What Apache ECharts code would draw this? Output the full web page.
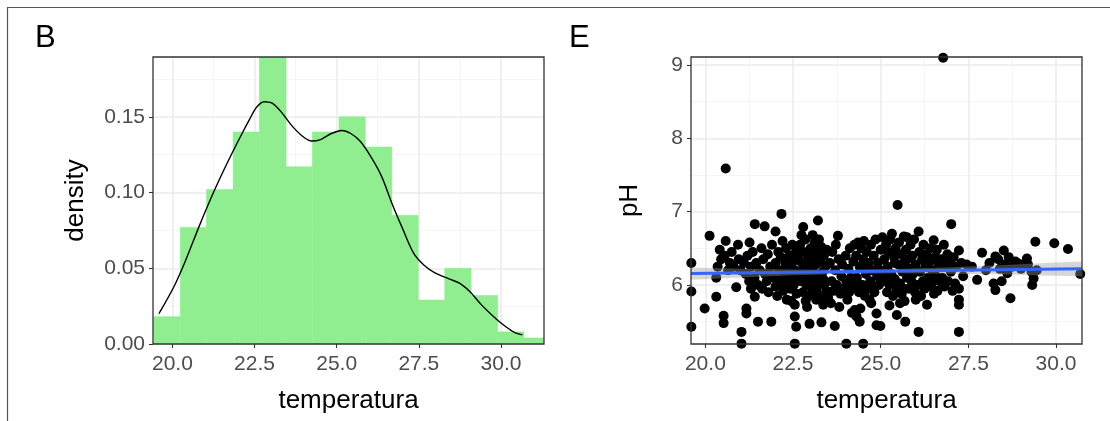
<!DOCTYPE html>
<html>
<head>
<meta charset="utf-8">
<script src="https://cdn.jsdelivr.net/npm/echarts@6/dist/echarts.min.js"></script>
<style>
  html, body { margin: 0; padding: 0; background: #ffffff; }
  #chart { width: 1110px; height: 421px; }
</style>
</head>
<body>
<div id="chart"></div>
<script>
// ---- Panel B: histogram of temperature with a density curve ----
const binEdges = [19.43, 20.24, 21.04, 21.85, 22.65, 23.46, 24.26, 25.07, 25.87, 26.68, 27.48, 28.29, 29.09, 29.90, 30.70, 31.51];
const binDensity = [0.018, 0.077, 0.102, 0.140, 0.196, 0.117, 0.140, 0.150, 0.130, 0.085, 0.029, 0.050, 0.032, 0.008, 0.004];

const densTemp = [19.59, 20.05, 20.38, 20.82, 21.25, 21.68, 22.12, 22.34, 22.55, 22.79, 23.04, 23.32, 23.64, 23.97, 24.24, 24.51, 24.84, 25.16, 25.43, 25.71, 26.03, 26.36, 26.68, 27.01, 27.34, 27.66, 27.99, 28.42, 28.75, 29.08, 29.40, 29.73, 30.05, 30.38, 30.65];
const densValue = [0.020, 0.038, 0.054, 0.078, 0.100, 0.120, 0.139, 0.148, 0.156, 0.160, 0.159, 0.153, 0.144, 0.137, 0.134, 0.135, 0.139, 0.141, 0.139, 0.134, 0.124, 0.111, 0.093, 0.076, 0.060, 0.052, 0.047, 0.043, 0.040, 0.034, 0.026, 0.019, 0.013, 0.008, 0.006];

// ---- Panel E: pH against temperature with a linear fit ----
const phPoints = [
  [19.60,6.30],[19.60,5.91],[19.60,5.43],[19.98,5.68],[20.12,6.67],
  [20.31,6.10],[20.31,5.84],[20.41,6.48],[20.52,5.58],[20.52,5.48],[20.58,6.60],[20.58,7.59],[20.93,6.55],[20.88,5.97],[21.03,5.36],
  [21.03,5.20],[20.45,6.35],[20.55,6.40],[20.70,6.30],[20.80,6.25],[20.65,6.20],[20.95,6.35],[21.00,6.20],[20.35,6.25],[20.75,6.45],
  [21.17,5.68],[21.17,5.61],[21.26,6.58],[21.41,6.83],[21.41,5.84],[21.50,5.50],[21.69,6.80],[21.10,6.30],[21.15,6.15],[21.20,6.40],
  [21.25,6.05],[21.30,6.25],[21.35,6.45],[21.40,6.10],[21.45,6.30],[21.50,6.00],[21.55,6.20],[21.60,6.50],[21.62,5.95],[21.65,6.35],
  [21.70,6.15],[21.75,6.05],[21.78,6.42],[21.80,5.90],[21.85,6.25],[21.30,5.95],
  [21.88,5.50],[22.00,6.73],[22.17,6.97],[22.55,5.57],[22.59,5.43],[22.55,5.20],[22.55,5.73],[21.90,6.55],[21.95,6.10],[22.00,6.30],
  [22.05,5.85],[22.08,6.45],[22.10,6.20],[22.12,6.00],[22.15,6.38],[22.20,6.60],[22.22,5.92],[22.25,6.15],[22.28,6.30],[22.30,6.50],
  [22.32,5.80],[22.35,6.05],[22.38,6.25],[22.40,6.40],[22.42,5.95],[22.45,6.12],[22.48,6.55],[22.50,6.32],[22.52,6.00],[22.55,6.20],
  [22.58,6.45],[22.60,5.88],[22.62,6.10],[22.65,6.35],[22.00,5.98],[22.30,6.22],[22.45,5.78],[22.18,6.08],[22.36,6.14],[22.26,5.98],
  [22.79,6.79],[22.97,5.47],[23.21,6.88],[23.31,5.49],[23.16,5.80],[23.36,5.73],[22.70,6.55],[22.72,6.05],[22.75,6.30],[22.78,5.90],
  [22.80,6.45],[22.82,6.15],[22.85,6.62],[22.88,6.00],[22.90,6.25],[22.92,6.40],[22.95,5.85],[22.98,6.10],[23.00,6.50],[23.02,6.20],
  [23.05,5.95],[23.08,6.35],[23.10,6.05],[23.12,6.58],[23.15,6.28],[23.18,5.90],[23.20,6.42],[23.22,6.12],[23.25,6.00],[23.28,6.32],
  [23.30,6.52],[23.32,5.82],[23.35,6.18],[23.38,6.40],[23.40,6.02],[23.42,6.25],[23.45,5.92],[23.46,6.48],[22.74,6.68],[22.86,5.78],
  [23.06,6.68],[23.24,6.62],[22.90,5.70],[23.15,6.15],[22.96,6.35],[23.36,6.08],[23.00,5.98],[22.80,6.22],[22.93,6.03],[23.13,6.45],
  [23.50,5.83],[23.69,5.44],[23.78,6.67],[24.02,5.20],[24.26,5.66],[23.55,6.30],[23.60,6.05],[23.62,6.45],[23.65,5.92],[23.70,6.20],
  [23.72,6.55],[23.75,6.00],[23.80,6.35],[23.85,5.88],[23.88,6.12],[23.90,6.28],[23.95,5.95],[24.00,6.40],[24.02,6.05],[24.05,5.80],
  [24.08,6.22],[24.10,5.90],[24.12,6.50],[24.15,6.10],[24.20,5.98],[24.22,6.32],[24.25,6.55],[23.58,5.75],[23.82,5.70],[24.18,5.62],
  [24.31,5.57],[24.40,5.50],[24.50,5.20],[24.73,5.75],[24.88,5.61],[24.88,5.45],[24.99,5.44],[24.30,6.40],[24.32,6.10],[24.35,6.58],
  [24.38,5.90],[24.40,6.25],[24.45,6.50],[24.48,6.00],[24.50,6.35],[24.52,6.60],[24.55,5.85],[24.58,6.15],[24.60,6.45],[24.62,5.95],
  [24.65,6.30],[24.70,6.05],[24.72,6.55],[24.75,6.20],[24.80,6.40],[24.82,5.90],[24.85,6.62],[24.90,6.12],[24.92,6.30],[24.95,6.00],
  [25.00,6.48],[25.05,6.65],[24.42,5.68],[24.68,5.80],[24.98,6.20],[24.55,6.25],[24.36,6.02],[24.78,5.98],
  [25.32,6.70],[25.48,7.09],[25.46,5.59],[25.66,6.66],[25.70,5.50],[25.10,6.35],[25.12,6.05],[25.15,6.55],[25.18,5.90],[25.20,6.25],
  [25.22,6.45],[25.25,6.00],[25.28,6.62],[25.30,6.15],[25.35,5.85],[25.38,6.38],[25.40,6.08],[25.42,6.50],[25.45,5.95],[25.50,6.28],
  [25.52,6.58],[25.55,6.02],[25.58,6.42],[25.60,5.88],[25.62,6.18],[25.65,6.30],[25.68,5.78],[25.72,6.48],[25.75,6.10],[25.78,6.35],
  [25.80,5.95],[25.82,6.22],[25.85,6.55],[25.88,6.05],[25.25,5.72],[25.55,5.75],[25.40,6.30],[25.75,6.65],[25.15,6.12],[25.62,5.96],
  [26.08,6.73],[26.08,5.36],[26.51,6.61],[26.32,5.73],[25.90,6.40],[25.92,6.15],[25.95,6.62],[25.98,5.90],[26.00,6.28],[26.05,6.00],
  [26.10,6.45],[26.12,6.18],[26.15,5.85],[26.18,6.35],[26.20,6.05],[26.22,6.55],[26.25,5.95],[26.28,6.25],[26.30,6.42],[26.35,6.10],
  [26.38,5.98],[26.40,6.32],[26.42,6.50],[26.45,6.02],[26.48,6.20],[26.52,5.88],[26.55,6.38],[26.58,6.12],[26.60,6.48],[26.62,5.92],
  [26.65,6.28],[26.68,6.05],[26.00,5.80],
  [27.01,6.83],[27.23,6.47],[27.23,5.95],[27.23,5.80],[27.23,5.73],[27.23,5.36],[26.72,6.35],[26.75,6.10],[26.80,6.55],[26.82,5.98],
  [26.85,6.25],[26.90,6.42],[26.92,6.05],[26.95,6.30],[27.00,6.18],[27.05,5.92],[27.08,6.38],[27.12,6.02],[27.15,6.25],[27.30,6.30],
  [27.35,6.12],[27.45,6.28],[26.78,9.10],
  [27.75,6.07],[27.89,6.44],[28.22,6.02],[28.27,6.39],[28.27,5.93],[27.60,6.25],[28.00,6.20],[28.10,6.30],
  [28.51,6.47],[28.61,6.16],[28.70,5.82],[28.84,6.32],[28.35,6.35],[28.40,6.22],[28.45,6.05],[28.55,6.28],[28.65,6.38],[28.75,6.25],
  [28.90,6.30],[29.00,6.22],[29.05,6.28],
  [29.17,6.36],[29.32,6.00],[29.36,6.09],[29.41,6.59],[29.20,6.28],[29.30,6.18],[29.45,6.20],
  [29.95,6.57],[30.34,6.49],[30.69,6.15]
];

const fitTemp = [19.59, 30.74];
const fitPH = [6.155, 6.220];
const bandTemp = [19.59, 21.0, 22.5, 24.0, 25.5, 27.0, 28.5, 30.0, 30.74];
const bandLow = [6.070, 6.103, 6.132, 6.151, 6.159, 6.153, 6.142, 6.126, 6.120];
const bandHigh = [6.240, 6.223, 6.212, 6.211, 6.219, 6.243, 6.272, 6.306, 6.320];

// ---- Axis ticks ----
const tempTicks = [20, 22.5, 25, 27.5, 30];
const tempMinor = [21.25, 23.75, 26.25, 28.75];
const densTicks = [0, 0.05, 0.10, 0.15];
const densMinor = [0.025, 0.075, 0.125, 0.175];
const phTicks = [6, 7, 8, 9];
const phMinor = [5.5, 6.5, 7.5, 8.5];

const FONT = "'Liberation Sans', Arial, sans-serif";
const TICK_COLOR = '#4d4d4d';
const GRID_COLOR = '#ebebeb';

function majorAxis(opts) {
  return Object.assign({
    type: 'value',
    axisLine: { show: false },
    axisTick: { show: true, length: 4, lineStyle: { color: '#333333', width: 1.1 }, customValues: opts.ticks },
    axisLabel: {
      customValues: opts.ticks, color: TICK_COLOR, fontSize: 21, fontFamily: FONT,
      margin: opts.margin, formatter: opts.formatter
    },
    splitLine: { show: true, lineStyle: { color: GRID_COLOR, width: 1.5 } },
    nameLocation: 'middle',
    nameTextStyle: { color: '#000000', fontSize: 26, fontFamily: FONT }
  }, opts.extra);
}
function minorAxis(opts) {
  return Object.assign({
    type: 'value',
    axisLine: { show: false },
    axisTick: { show: false, customValues: opts.ticks },
    axisLabel: { show: false, customValues: opts.ticks },
    splitLine: { show: true, lineStyle: { color: '#f2f2f2', width: 0.8 } }
  }, opts.extra);
}

const chart = echarts.init(document.getElementById('chart'), null, { renderer: 'canvas' });

const option = {
  animation: false,
  backgroundColor: '#ffffff',
  title: [
    { text: 'B', left: 35, top: 23, padding: 0, textStyle: { fontSize: 31, fontWeight: 'normal', color: '#000', fontFamily: FONT } },
    { text: 'E', left: 569, top: 23, padding: 0, textStyle: { fontSize: 31, fontWeight: 'normal', color: '#000', fontFamily: FONT } }
  ],
  graphic: [
    { type: 'polyline', silent: true, z: 100,
      shape: { points: [[7.5, 421], [7.5, 7.5], [1110, 7.5]] },
      style: { stroke: '#555555', lineWidth: 1.2, fill: null } }
  ],
  grid: [
    { left: 153, top: 57, width: 391, height: 287, show: true, z: 10,
      backgroundColor: 'transparent', borderColor: '#333333', borderWidth: 1.3 },
    { left: 691, top: 57, width: 391, height: 287, show: true, z: 10,
      backgroundColor: 'transparent', borderColor: '#333333', borderWidth: 1.3 }
  ],
  xAxis: [
    majorAxis({ ticks: tempTicks, margin: 10, formatter: v => v.toFixed(1),
      extra: { gridIndex: 0, min: 19.41, max: 31.31, position: 'bottom', name: 'temperatura', nameGap: 44 } }),
    minorAxis({ ticks: tempMinor, extra: { gridIndex: 0, min: 19.41, max: 31.31, position: 'top' } }),
    majorAxis({ ticks: tempTicks, margin: 10, formatter: v => v.toFixed(1),
      extra: { gridIndex: 1, min: 19.59, max: 30.74, position: 'bottom', name: 'temperatura', nameGap: 44 } }),
    minorAxis({ ticks: tempMinor, extra: { gridIndex: 1, min: 19.59, max: 30.74, position: 'top' } })
  ],
  yAxis: [
    majorAxis({ ticks: densTicks, margin: 8, formatter: v => v.toFixed(2),
      extra: { gridIndex: 0, min: 0, max: 0.1895, position: 'left', name: 'density', nameGap: 64 } }),
    minorAxis({ ticks: densMinor, extra: { gridIndex: 0, min: 0, max: 0.1895, position: 'right' } }),
    majorAxis({ ticks: phTicks, margin: 8, formatter: v => String(v),
      extra: { gridIndex: 1, min: 5.195, max: 9.11, position: 'left', name: 'pH', nameGap: 48 } }),
    minorAxis({ ticks: phMinor, extra: { gridIndex: 1, min: 5.195, max: 9.11, position: 'right' } })
  ],
  series: [
    {
      name: 'histogram',
      type: 'custom',
      xAxisIndex: 0, yAxisIndex: 0,
      clip: true,
      encode: { x: [0, 1], y: 2 },
      data: binDensity.map((d, i) => [binEdges[i], binEdges[i + 1], d]),
      renderItem: function (params, api) {
        const p0 = api.coord([api.value(0), api.value(2)]);
        const p1 = api.coord([api.value(1), 0]);
        const cs = params.coordSys;
        const rect = echarts.graphic.clipRectByRect(
          { x: p0[0], y: p0[1], width: p1[0] - p0[0], height: p1[1] - p0[1] },
          { x: cs.x, y: cs.y, width: cs.width, height: cs.height }
        );
        return rect && {
          type: 'rect', shape: rect,
          style: { fill: '#90ee90', stroke: '#90ee90', lineWidth: 0.6 }
        };
      },
      z: 2
    },
    {
      name: 'density',
      type: 'line',
      xAxisIndex: 0, yAxisIndex: 0,
      data: densTemp.map((t, i) => [t, densValue[i]]),
      smooth: 0.3,
      showSymbol: false,
      lineStyle: { color: '#000000', width: 1.4 },
      z: 3
    },
    {
      name: 'pH',
      type: 'scatter',
      xAxisIndex: 2, yAxisIndex: 2,
      data: phPoints,
      symbolSize: 10,
      clip: true,
      itemStyle: { color: '#000000', opacity: 1 },
      z: 2
    },
    {
      name: 'band',
      type: 'custom',
      xAxisIndex: 2, yAxisIndex: 2,
      clip: true,
      data: [0],
      renderItem: function (params, api) {
        const pts = [];
        for (let i = 0; i < bandTemp.length; i++) pts.push(api.coord([bandTemp[i], bandHigh[i]]));
        for (let i = bandTemp.length - 1; i >= 0; i--) pts.push(api.coord([bandTemp[i], bandLow[i]]));
        return { type: 'polygon', shape: { points: pts }, style: { fill: 'rgba(153,153,153,0.4)' } };
      },
      z: 3
    },
    {
      name: 'fit',
      type: 'line',
      xAxisIndex: 2, yAxisIndex: 2,
      data: fitTemp.map((t, i) => [t, fitPH[i]]),
      showSymbol: false,
      lineStyle: { color: '#3366ff', width: 3 },
      z: 4
    }
  ]
};

chart.setOption(option);
</script>
</body>
</html>
